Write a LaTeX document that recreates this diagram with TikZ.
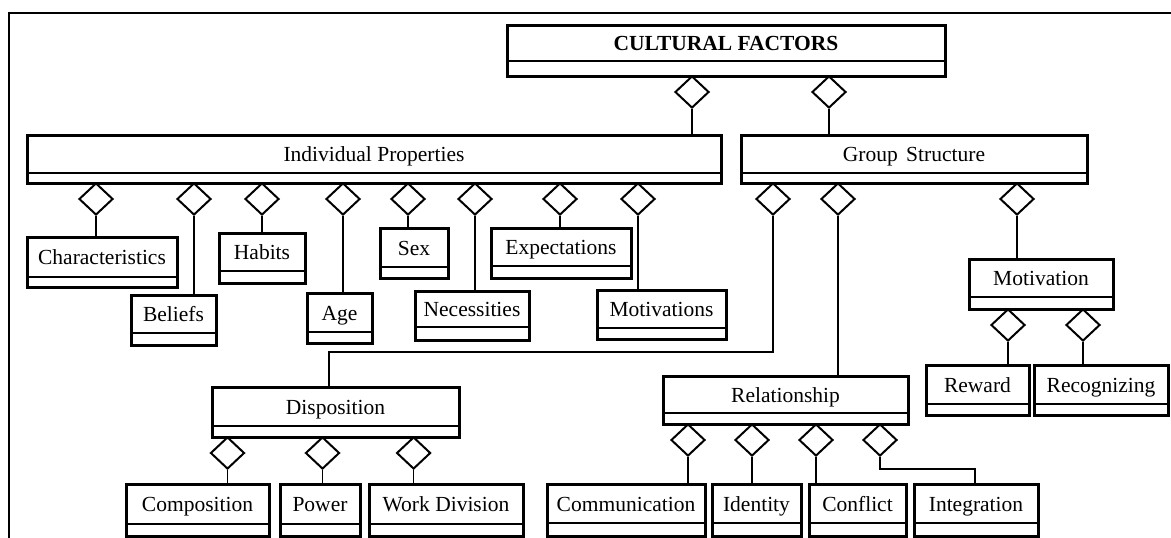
\documentclass[tikz,border=0pt]{standalone}
\usepackage{fontspec}
\setmainfont{Liberation Serif}
\usetikzlibrary{shapes.geometric}

\tikzset{
  classframe/.style={draw, line width=3pt, rectangle, inner sep=0pt, outer sep=0pt},
  divider/.style={line width=1.4pt},
  classname/.style={inner sep=0pt, anchor=base, font=\fontsize{21.5}{24}\selectfont},
  agg/.style={draw, shape=diamond, line width=2pt, fill=white, inner sep=0pt,
    minimum width=34pt, minimum height=32pt},
  conn/.style={line width=1.7pt},
  frameline/.style={line width=2pt},
}

% class box: name, left, top, right, bottom, divider, title
\newcommand\classbox[7]{%
  \node[classframe, minimum width={#4-#2}, minimum height={#5-#3}]
    (#1) at ({(#2+#4)/2},{(#3+#5)/2}) {};
  \draw[divider] (#2,#6) -- (#4,#6);
  \node[classname] (#1-t) at ({(#2+#4)/2},{(#3+#6)/2+7.5}) {#7};
}

\begin{document}
\begin{tikzpicture}[x=1pt, y=-1pt]
\useasboundingbox (0,0) rectangle (1171,538);

% page frame
\draw[frameline] (9,538) -- (9,13) -- (1171,13);

% classes
\classbox{cf}{507}{25}{945}{76}{61}{\textbf{CULTURAL FACTORS}}
\classbox{ip}{27}{135}{721}{183}{173}{Individual Properties}
\classbox{gs}{741}{135}{1087}{183}{173}{Group\kern3pt{} Structure}
\classbox{char}{27}{237}{177}{287}{277}{Characteristics}
\classbox{bel}{131}{295}{216}{345}{333}{Beliefs}
\classbox{hab}{219}{233}{305}{283}{271}{Habits}
\classbox{age}{307}{293}{372}{343}{332}{Age}
\classbox{sex}{380}{228}{448}{278}{267}{Sex}
\classbox{nec}{415}{291}{529}{340}{327}{Necessities}
\classbox{exp}{491}{228}{631}{278}{266}{Expectations}
\classbox{mots}{597}{290}{726}{339}{328}{Motivations}
\classbox{mot}{969}{259}{1113}{309}{297}{Motivation}
\classbox{rew}{926}{365}{1029}{415}{404}{Reward}
\classbox{rec}{1034}{365}{1168}{415}{404}{Recognizing}
\classbox{dis}{212}{387}{459}{437}{426}{Disposition}
\classbox{rel}{663}{376}{908}{424}{413}{Relationship}
\classbox{comp}{126}{484}{269}{536}{524}{Composition}
\classbox{pow}{280}{484}{360}{536}{524}{Power}
\classbox{wd}{369}{484}{523}{536}{524}{Work Division}
\classbox{com}{547}{484}{705}{536}{523}{Communication}
\classbox{ide}{712}{484}{801}{536}{523}{Identity}
\classbox{con}{809}{484}{906}{536}{523}{Conflict}
\classbox{int}{914}{484}{1038}{536}{523}{Integration}

% aggregation diamonds
\node[agg] (dcf1) at (692,92) {};
\node[agg] (dcf2) at (829,92) {};
\foreach \x [count=\i] in {96,194,262,343,408,475,560,638}
  \node[agg] (dip\i) at (\x,199) {};
\node[agg] (dgs1) at (773,199) {};
\node[agg] (dgs2) at (838,199) {};
\node[agg] (dgs3) at (1017,199) {};
\node[agg] (dmot1) at (1008,325) {};
\node[agg] (dmot2) at (1083,325) {};
\node[agg] (ddis1) at (227.5,453) {};
\node[agg] (ddis2) at (322.5,453) {};
\node[agg] (ddis3) at (413.6,453) {};
\foreach \x [count=\i] in {688,752,816,880}
  \node[agg] (drel\i) at (\x,440) {};

% bend points
\coordinate (disbend) at (329,352);
\coordinate (intbend) at (975,469);

% connectors
\draw[conn] (dcf1.south) -- (dcf1.south |- ip.north);
\draw[conn] (dcf2.south) -- (dcf2.south |- gs.north);
\foreach \d/\c in {dip1/char, dip2/bel, dip3/hab, dip4/age, dip5/sex,
                   dip6/nec, dip7/exp, dip8/mots, dgs2/rel, dgs3/mot,
                   dmot1/rew, dmot2/rec, ddis1/comp, ddis2/pow, ddis3/wd,
                   drel1/com, drel2/ide, drel3/con}
  \draw[conn] (\d.south) -- (\d.south |- \c.north);
\draw[conn] (dgs1.south) |- (disbend) -- (disbend |- dis.north);
\draw[conn] (drel4.south) |- (intbend) -- (intbend |- int.north);
\end{tikzpicture}
\end{document}
